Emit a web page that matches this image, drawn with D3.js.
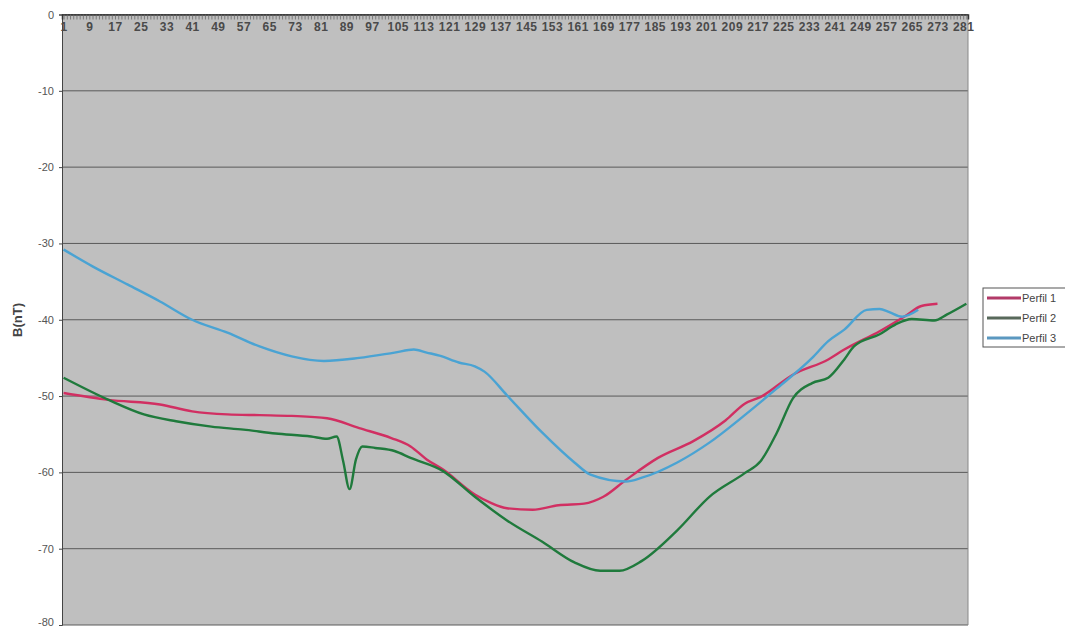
<!DOCTYPE html>
<html lang="es">
<head>
  <meta charset="utf-8"/>
  <title>Perfiles B(nT)</title>
  <script src="https://cdn.jsdelivr.net/npm/d3@7/dist/d3.min.js"></script>
  <style>
    html, body { margin:0; padding:0; background:#fff; overflow:hidden; }
    svg { display:block; font-family:"Liberation Sans", Arial, sans-serif; }
    .xlab { font-size:12px; font-weight:bold; fill:#4a4a4a; letter-spacing:0.5px; }
    .ylab { font-size:11px; fill:#555; }
    .title { font-size:13px; font-weight:bold; fill:#444; }
    .leg  { font-size:11px; fill:#444; }
  </style>
</head>
<body>
<svg width="1065" height="629"></svg>
<script>
// --- datos (índice de muestra, B en nT) ---
const nCats = 282;
const yTicks = [0, -10, -20, -30, -40, -50, -60, -70, -80];

const p1X = [1, 15, 31, 41, 52, 62, 72, 83, 93, 103, 109, 114, 119, 129, 134, 139, 147, 155, 163, 169, 176, 186, 197, 207, 213, 218, 228, 239, 244, 255, 263, 268, 273];
const p1Y = [-49.6, -50.5, -51.1, -52.0, -52.4, -52.5, -52.6, -52.9, -54.2, -55.5, -56.6, -58.3, -59.6, -62.9, -64.0, -64.7, -64.9, -64.3, -64.1, -63.2, -61.0, -58.1, -55.9, -53.2, -51.0, -50.1, -47.2, -45.2, -43.9, -41.5, -39.5, -38.2, -37.9];

const p2X = [1, 15, 26, 36, 47, 57, 67, 78, 83, 86, 88, 90, 92, 94, 98, 104, 109, 119, 129, 139, 150, 160, 168, 174, 181, 192, 202, 213, 218, 223, 228, 234, 239, 244, 247, 255, 260, 265, 272, 276, 282];
const p2Y = [-47.6, -50.5, -52.4, -53.3, -54.0, -54.4, -54.9, -55.3, -55.6, -55.3, -58.5, -62.2, -58.3, -56.6, -56.8, -57.2, -58.1, -59.8, -63.2, -66.3, -69.1, -71.8, -72.9, -72.9, -71.6, -67.6, -63.2, -60.1, -58.5, -54.8, -50.3, -48.3, -47.6, -45.2, -43.5, -41.9, -40.6, -39.9, -40.1, -39.3, -37.9];

const p3X = [1, 10, 21, 31, 41, 52, 62, 72, 82, 93, 104, 110, 114, 118, 124, 129, 132, 139, 150, 160, 165, 176, 181, 192, 202, 213, 223, 234, 239, 244, 251, 255, 258, 262, 267];
const p3Y = [-30.8, -33.0, -35.4, -37.6, -40.0, -41.7, -43.5, -44.8, -45.4, -45.0, -44.3, -43.9, -44.3, -44.7, -45.6, -46.1, -46.8, -49.9, -54.8, -58.7, -60.3, -61.2, -60.7, -58.7, -56.1, -52.5, -49.0, -45.0, -42.8, -41.3, -38.7, -38.6, -39.0, -39.6, -38.7];

const seriesNames = ["Perfil 1", "Perfil 2", "Perfil 3"];
const lineColors  = ["#d12f62", "#1f7a3c", "#4aa3d3"];
const legendColors = ["#b23a68", "#58695b", "#5b98c0"];

const series = [
  { name: seriesNames[0], pts: p1X.map((x, i) => [x, p1Y[i]]) },
  { name: seriesNames[1], pts: p2X.map((x, i) => [x, p2Y[i]]) },
  { name: seriesNames[2], pts: p3X.map((x, i) => [x, p3Y[i]]) }
];

const svg = d3.select("svg");
const L = 62, R = 968, T = 14.5, B = 625;

const x = d3.scaleLinear().domain([0.5, nCats + 0.5]).range([L, R]);
const y = d3.scaleLinear().domain([0, -80]).range([T, B]);

// fondo del área de trazado
svg.append("rect")
  .attr("x", L).attr("y", T).attr("width", R - L).attr("height", B - T)
  .attr("fill", "#bfbfbf");

// líneas de cuadrícula
svg.append("g")
  .selectAll("line")
  .data(yTicks)
  .join("line")
    .attr("x1", L).attr("x2", R)
    .attr("y1", d => y(d)).attr("y2", d => y(d))
    .attr("stroke", "#5a5a5a").attr("stroke-width", 1);

// borde derecho
svg.append("line")
  .attr("x1", R).attr("x2", R).attr("y1", T).attr("y2", B)
  .attr("stroke", "#888");

// eje Y (guion normal, como en el original)
const yAxis = svg.append("g")
  .attr("transform", `translate(${L},0)`)
  .call(d3.axisLeft(y).tickValues(yTicks).tickSize(3).tickPadding(5)
    .tickFormat(d => String(d)));
yAxis.select(".domain").attr("stroke", "#444");
yAxis.selectAll(".tick line").attr("stroke", "#444");
yAxis.selectAll("text")
  .attr("class", "ylab").attr("font-family", null).attr("font-size", null)
  .attr("dy", d => d === -80 ? "0.05em" : "0.32em");

// eje X (categorías arriba, marcas hacia adentro)
const xAxis = svg.append("g")
  .attr("transform", `translate(0,${T})`)
  .call(d3.axisBottom(x)
    .tickValues(d3.range(1, nCats + 1))
    .tickSize(5)
    .tickPadding(3)
    .tickFormat(d => (d - 1) % 8 === 0 ? d : ""));
xAxis.select(".domain").attr("stroke", "#333").attr("stroke-width", 1.5);
xAxis.selectAll(".tick line").attr("stroke", "#6a6a6a").attr("stroke-width", 0.8);
xAxis.selectAll("text").attr("class", "xlab").attr("font-family", null).attr("font-size", null);

// series
const line = d3.line()
  .x(d => x(d[0]))
  .y(d => y(d[1]))
  .curve(d3.curveMonotoneX);

svg.append("g")
  .selectAll("path")
  .data(series)
  .join("path")
    .attr("d", d => line(d.pts))
    .attr("fill", "none")
    .attr("stroke", (d, i) => lineColors[i])
    .attr("stroke-width", 2.4)
    .attr("stroke-linejoin", "round");

// título del eje Y
svg.append("text")
  .attr("class", "title")
  .attr("transform", "translate(22,320) rotate(-90)")
  .attr("text-anchor", "middle")
  .text("B(nT)");

// leyenda
const leg = svg.append("g").attr("transform", "translate(983,288)");
leg.append("rect")
  .attr("width", 90).attr("height", 59)
  .attr("fill", "#fff").attr("stroke", "#555");
const items = leg.selectAll("g.item")
  .data(seriesNames)
  .join("g")
    .attr("class", "item")
    .attr("transform", (d, i) => `translate(0,${10 + i * 20})`);
items.append("line")
  .attr("x1", 4).attr("x2", 38)
  .attr("stroke", (d, i) => legendColors[i])
  .attr("stroke-width", 3);
items.append("text")
  .attr("class", "leg")
  .attr("x", 39).attr("dy", "0.35em")
  .text(d => d);
</script>
</body>
</html>
